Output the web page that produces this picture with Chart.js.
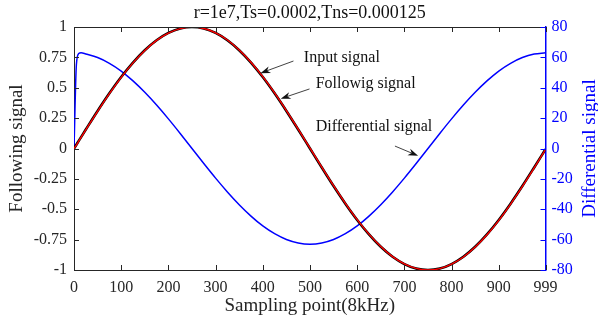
<!DOCTYPE html>
<html>
<head>
<meta charset="utf-8">
<script src="https://cdn.jsdelivr.net/npm/chart.js@4.4.1/dist/chart.umd.min.js"></script>
<style>
  html, body { margin: 0; padding: 0; background: #fff; }
  #wrap { width: 598px; height: 321px; }
</style>
</head>
<body>
<div id="wrap"><canvas id="plot"></canvas></div>
<script>
"use strict";

// sampling points used to trace the curves
var samplePoints = [0, 5, 10, 15, 25, 50, 75, 100, 125, 150, 175, 200, 225, 250, 275, 300, 325, 350, 375, 400,
  425, 450, 475, 500, 525, 550, 575, 600, 625, 650, 675, 700, 725, 750, 775, 800, 825, 850, 875, 900,
  925, 950, 975, 999];

var inputSignal = [0, 0.031, 0.063, 0.094, 0.156, 0.309, 0.454, 0.588, 0.707, 0.809, 0.891, 0.951, 0.988, 1,
  0.988, 0.951, 0.891, 0.809, 0.707, 0.588, 0.454, 0.309, 0.156, 0, -0.156, -0.309, -0.454, -0.588,
  -0.707, -0.809, -0.891, -0.951, -0.988, -1, -0.988, -0.951, -0.891, -0.809, -0.707, -0.588, -0.454,
  -0.309, -0.156, -0.006];

var followSignal = [0, 0.028, 0.060, 0.091, 0.153, 0.306, 0.451, 0.586, 0.705, 0.807, 0.890, 0.950, 0.987, 1,
  0.988, 0.952, 0.893, 0.811, 0.710, 0.591, 0.457, 0.312, 0.159, 0.003, -0.153, -0.306, -0.451, -0.586,
  -0.705, -0.807, -0.890, -0.950, -0.987, -1, -0.989, -0.952, -0.893, -0.811, -0.710, -0.591, -0.457,
  -0.312, -0.159, -0.009];

var diffSignal = [0, 55, 62.5, 63, 62.2, 59.9, 56.1, 51.0, 44.5, 37.0, 28.6, 19.5, 9.9, 0, -9.9, -19.5,
  -28.6, -37.0, -44.5, -51.0, -56.1, -59.9, -62.2, -63, -62.2, -59.9, -56.1, -51.0, -44.5, -37.0, -28.6,
  -19.5, -9.9, 0, 9.9, 19.5, 28.6, 37.0, 44.5, 51.0, 56.1, 59.9, 62.2, 63];

var xTicks = [0, 100, 200, 300, 400, 500, 600, 700, 800, 900, 999];
var leftTicks = [-1, -0.75, -0.5, -0.25, 0, 0.25, 0.5, 0.75, 1];
var rightTicks = [-80, -60, -40, -20, 0, 20, 40, 60, 80];

var chartTitle = "r=1e7,Ts=0.0002,Tns=0.000125";
var xTitle = "Sampling point(8kHz)";
var leftTitle = "Following signal";
var rightTitle = "Differential signal";

// text labels with arrows: text pos [x, y(left axis)], arrow from -> to
var notes = [
  { text: "Input signal", at: [487, 0.75], from: [465, 0.72], to: [395, 0.62] },
  { text: "Followig signal", at: [512, 0.53], from: [499, 0.49], to: [438, 0.41] },
  { text: "Differential signal", at: [512, 0.18], from: [680, 0.02], to: [729, -0.06] }
];

var SERIF = "'Liberation Serif', 'Times New Roman', serif";
var INK = "#262626";
var BLUE = "#0000ff";

function pts(ys) {
  return samplePoints.map(function (x, i) { return { x: x, y: ys[i] }; });
}

function fixTicks(list) {
  return function (scale) {
    scale.ticks = list.map(function (v) { return { value: v }; });
  };
}

function arrow(ctx, x1, y1, x2, y2) {
  var ang = Math.atan2(y2 - y1, x2 - x1);
  var len = 10, half = 3.5;
  ctx.beginPath();
  ctx.moveTo(x1, y1);
  ctx.lineTo(x2 - Math.cos(ang) * len * 0.7, y2 - Math.sin(ang) * len * 0.7);
  ctx.stroke();
  ctx.beginPath();
  ctx.moveTo(x2, y2);
  ctx.lineTo(x2 - Math.cos(ang) * len - Math.sin(ang) * half, y2 - Math.sin(ang) * len + Math.cos(ang) * half);
  ctx.lineTo(x2 - Math.cos(ang) * len * 0.7, y2 - Math.sin(ang) * len * 0.7);
  ctx.lineTo(x2 - Math.cos(ang) * len + Math.sin(ang) * half, y2 - Math.sin(ang) * len - Math.cos(ang) * half);
  ctx.closePath();
  ctx.fill();
}

var decor = {
  id: "decor",
  afterDraw: function (chart) {
    var ctx = chart.ctx;
    var a = chart.chartArea;
    var sx = chart.scales.x, sy = chart.scales.y, sy2 = chart.scales.y2;
    ctx.save();

    // top frame line
    ctx.strokeStyle = INK;
    ctx.lineWidth = 1;
    ctx.beginPath();
    ctx.moveTo(a.left, a.top + 0.5);
    ctx.lineTo(a.right, a.top + 0.5);
    ctx.stroke();

    // inward ticks, matlab style
    var tl = 5;
    ctx.beginPath();
    xTicks.forEach(function (v) {
      var px = Math.round(sx.getPixelForValue(v)) + 0.5;
      ctx.moveTo(px, a.bottom); ctx.lineTo(px, a.bottom - tl);
      ctx.moveTo(px, a.top); ctx.lineTo(px, a.top + tl);
    });
    leftTicks.forEach(function (v) {
      var py = Math.round(sy.getPixelForValue(v)) + 0.5;
      ctx.moveTo(a.left, py); ctx.lineTo(a.left + tl, py);
    });
    ctx.stroke();
    ctx.strokeStyle = BLUE;
    ctx.beginPath();
    rightTicks.forEach(function (v) {
      var py = Math.round(sy2.getPixelForValue(v)) + 0.5;
      ctx.moveTo(a.right, py); ctx.lineTo(a.right - tl, py);
    });
    ctx.stroke();

    // titles
    ctx.fillStyle = "#111";
    ctx.textAlign = "center";
    ctx.textBaseline = "middle";
    ctx.font = "18px " + SERIF;
    ctx.fillText(chartTitle, (a.left + a.right) / 2, 13);
    ctx.font = "19px " + SERIF;
    ctx.fillStyle = INK;
    ctx.fillText(xTitle, (a.left + a.right) / 2, 306);
    ctx.save();
    ctx.translate(17, (a.top + a.bottom) / 2);
    ctx.rotate(-Math.PI / 2);
    ctx.fillText(leftTitle, 0, 0);
    ctx.restore();
    ctx.save();
    ctx.fillStyle = BLUE;
    ctx.translate(590, (a.top + a.bottom) / 2);
    ctx.rotate(-Math.PI / 2);
    ctx.fillText(rightTitle, 0, 0);
    ctx.restore();

    // annotations
    ctx.font = "16px " + SERIF;
    ctx.textAlign = "left";
    ctx.fillStyle = "#111";
    ctx.strokeStyle = "#111";
    ctx.lineWidth = 0.8;
    notes.forEach(function (n) {
      ctx.fillText(n.text, sx.getPixelForValue(n.at[0]), sy.getPixelForValue(n.at[1]));
      arrow(ctx, sx.getPixelForValue(n.from[0]), sy.getPixelForValue(n.from[1]),
        sx.getPixelForValue(n.to[0]), sy.getPixelForValue(n.to[1]));
    });
    ctx.restore();
  }
};

var tickFont = { family: SERIF, size: 16 };
var noGrid = { display: false, drawTicks: false, tickLength: 0 };

new Chart(document.getElementById("plot"), {
  type: "line",
  data: {
    datasets: [
      { label: "Differential signal", data: pts(diffSignal), yAxisID: "y2", borderColor: BLUE,
        borderWidth: 1.5, order: 3 },
      { label: "Input signal", data: pts(inputSignal), yAxisID: "y", borderColor: "#000",
        borderWidth: 2.6, order: 2 },
      { label: "Following signal", data: pts(followSignal), yAxisID: "y", borderColor: "#ff0000",
        borderWidth: 1.4, order: 1 }
    ]
  },
  options: {
    responsive: true,
    maintainAspectRatio: false,
    animation: false,
    events: [],
    layout: { padding: { top: 27, left: 0, right: 0, bottom: 0 } },
    elements: {
      point: { radius: 0 },
      line: { cubicInterpolationMode: "monotone", fill: false }
    },
    plugins: { legend: { display: false }, tooltip: { enabled: false } },
    scales: {
      x: {
        type: "linear", min: 0, max: 999,
        afterBuildTicks: fixTicks(xTicks),
        afterFit: function (s) { s.height = 51; },
        grid: noGrid,
        border: { display: true, color: INK, width: 1 },
        ticks: { color: INK, font: tickFont, padding: 8, maxRotation: 0, autoSkip: false }
      },
      y: {
        position: "left", min: -1, max: 1,
        afterBuildTicks: fixTicks(leftTicks),
        afterFit: function (s) { s.width = 74; },
        grid: noGrid,
        border: { display: true, color: INK, width: 1 },
        ticks: { color: INK, font: tickFont, padding: 7, callback: function (v) { return String(v); } }
      },
      y2: {
        position: "right", min: -80, max: 80,
        afterBuildTicks: fixTicks(rightTicks),
        afterFit: function (s) { s.width = 52.5; },
        grid: noGrid,
        border: { display: true, color: BLUE, width: 1.5 },
        ticks: { color: BLUE, font: tickFont, padding: 6, callback: function (v) { return String(v); } }
      }
    }
  },
  plugins: [decor]
});
</script>
</body>
</html>
